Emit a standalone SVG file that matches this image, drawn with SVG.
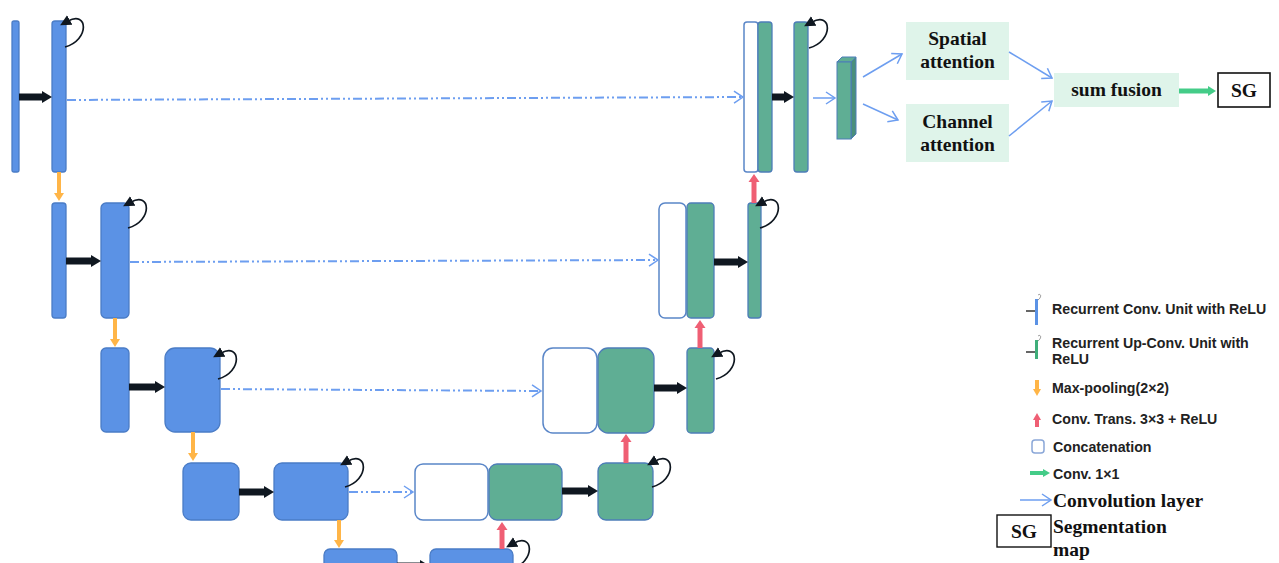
<svg xmlns="http://www.w3.org/2000/svg" width="1279" height="563" viewBox="0 0 1279 563">
  <style>
    .enc { fill: #5b92e5; stroke: #4a7cc6; stroke-width: 1.3; }
    .dec { fill: #5fae94; stroke: #4d7db8; stroke-width: 1.3; }
    .cat { fill: #ffffff; stroke: #5a86c8; stroke-width: 1.5; }
    .att { fill: #dff4ea; }
    .fwd { stroke: #0f1720; stroke-width: 7; fill: none; marker-end: url(#hBlack); }
    .pool { stroke: #ffb547; stroke-width: 4; fill: none; marker-end: url(#hOrange); }
    .up { stroke: #ef5f74; stroke-width: 5; fill: none; marker-end: url(#hRed); }
    .skip { stroke: #6d9ef0; stroke-width: 2; fill: none; stroke-dasharray: 9 3 2 3 2 3; marker-end: url(#hOpen); }
    .conv { stroke: #6d9ef0; stroke-width: 1.5; fill: none; marker-end: url(#hOpen); }
    .loop { stroke: #0f1720; stroke-width: 1.7; fill: none; marker-end: url(#hLoop); }
    .t-serif { font-family: "Liberation Serif", "Times New Roman", serif; font-weight: bold; font-size: 19.5px; fill: #111; }
    .t-leg { font-family: "Liberation Sans", Arial, sans-serif; font-weight: bold; font-size: 14.2px; fill: #222; }
  </style>
  <defs>
    <marker id="hBlack" markerUnits="userSpaceOnUse" markerWidth="11" markerHeight="14" refX="1" refY="7" orient="auto">
      <path d="M0,1 L10,7 L0,13 z" fill="#0f1720"/>
    </marker>
    <marker id="hOrange" markerUnits="userSpaceOnUse" markerWidth="9" markerHeight="12" refX="1" refY="6" orient="auto">
      <path d="M0,1 L8,6 L0,11 z" fill="#ffb547"/>
    </marker>
    <marker id="hRed" markerUnits="userSpaceOnUse" markerWidth="9" markerHeight="13" refX="1" refY="6.5" orient="auto">
      <path d="M0,1 L8,6.5 L0,12 z" fill="#ef5f74"/>
    </marker>
    <marker id="hGreen" markerUnits="userSpaceOnUse" markerWidth="9" markerHeight="12" refX="1" refY="6" orient="auto">
      <path d="M0,1 L8,6 L0,11 z" fill="#44cc88"/>
    </marker>
    <marker id="hOpen" markerUnits="userSpaceOnUse" markerWidth="12" markerHeight="14" refX="10" refY="7" orient="auto">
      <path d="M1,1 L10,7 L1,13" fill="none" stroke="#6d9ef0" stroke-width="1.5"/>
    </marker>
    <marker id="hLoop" markerUnits="userSpaceOnUse" markerWidth="13" markerHeight="13" refX="2" refY="6.5" orient="auto">
      <path d="M0,1 L11,6.5 L0,12 z" fill="#0f1720"/>
    </marker>
  </defs>

  <rect width="1279" height="563" fill="#ffffff"/>

  <!-- encoder path -->
  <g id="enc1a"><rect class="enc" x="12" y="21" width="7" height="151" rx="2"/></g>
  <g id="enc1b"><rect class="enc" x="52" y="21" width="14" height="151" rx="3"/></g>
  <g id="enc2a"><rect class="enc" x="52" y="203" width="14" height="115" rx="3"/></g>
  <g id="enc2b"><rect class="enc" x="101" y="203" width="28" height="115" rx="5"/></g>
  <g id="enc3a"><rect class="enc" x="101" y="348" width="28" height="84" rx="5"/></g>
  <g id="enc3b"><rect class="enc" x="165" y="348" width="55" height="84" rx="10"/></g>
  <g id="enc4a"><rect class="enc" x="183" y="463" width="56" height="57" rx="8"/></g>
  <g id="enc4b"><rect class="enc" x="274" y="463" width="74" height="57" rx="8"/></g>
  <g id="enc5a"><rect class="enc" x="324" y="549" width="73" height="30" rx="6"/></g>
  <g id="enc5b"><rect class="enc" x="430" y="549" width="83" height="30" rx="6"/></g>

  <!-- decoder path -->
  <g id="cat4"><rect class="cat" x="415" y="464" width="73" height="56" rx="8"/></g>
  <g id="dec4a"><rect class="dec" x="489" y="464" width="73" height="56" rx="8"/></g>
  <g id="dec4b"><rect class="dec" x="598" y="463" width="55" height="57" rx="8"/></g>
  <g id="cat3"><rect class="cat" x="543" y="348" width="54" height="85" rx="10"/></g>
  <g id="dec3a"><rect class="dec" x="598" y="348" width="56" height="85" rx="10"/></g>
  <g id="dec3b"><rect class="dec" x="687" y="348" width="27" height="85" rx="4"/></g>
  <g id="cat2"><rect class="cat" x="659" y="203" width="27" height="115" rx="6"/></g>
  <g id="dec2a"><rect class="dec" x="687" y="203" width="27" height="115" rx="4"/></g>
  <g id="dec2b"><rect class="dec" x="748" y="203" width="13" height="115" rx="3"/></g>
  <g id="cat1"><rect class="cat" x="744" y="22" width="14" height="150" rx="3"/></g>
  <g id="dec1a"><rect class="dec" x="758" y="22" width="14" height="150" rx="3"/></g>
  <g id="dec1b"><rect class="dec" x="794" y="22" width="14" height="150" rx="3"/></g>

  <!-- 1x1 feature block drawn as a small prism -->
  <g id="feat">
    <path d="M837,62 L842,57 L856,57 L851,62 z" fill="#5fae94" stroke="#4d7db8" stroke-width="1"/>
    <path d="M851,62 L856,57 L856,134 L851,139 z" fill="#4a8f7b" stroke="#4d7db8" stroke-width="1"/>
    <rect x="837" y="62" width="14" height="77" fill="#5fae94" stroke="#4d7db8" stroke-width="1"/>
  </g>

  <!-- attention and fusion -->
  <g id="spatial">
    <rect class="att" x="906" y="22" width="103" height="58"/>
    <text class="t-serif" x="957.5" y="45" text-anchor="middle">Spatial</text>
    <text class="t-serif" x="957.5" y="68" text-anchor="middle">attention</text>
  </g>
  <g id="channel">
    <rect class="att" x="906" y="104" width="103" height="58"/>
    <text class="t-serif" x="957.5" y="128" text-anchor="middle">Channel</text>
    <text class="t-serif" x="957.5" y="151" text-anchor="middle">attention</text>
  </g>
  <g id="fusion">
    <rect class="att" x="1054" y="73" width="125" height="34"/>
    <text class="t-serif" x="1116.5" y="96" text-anchor="middle">sum fusion</text>
  </g>
  <g id="sg">
    <rect x="1218" y="73" width="52" height="34" fill="#ffffff" stroke="#111" stroke-width="1.6"/>
    <text class="t-serif" x="1244" y="97" text-anchor="middle">SG</text>
  </g>

  <!-- connectors -->
  <g id="connectors">
    <!-- forward convolutions -->
    <line class="fwd" x1="19" y1="97" x2="43" y2="97"/>
    <line class="fwd" x1="66" y1="261" x2="92" y2="261"/>
    <line class="fwd" x1="129" y1="387" x2="156" y2="387"/>
    <line class="fwd" x1="239" y1="492" x2="265" y2="492"/>
    <line class="fwd" x1="397" y1="566" x2="421" y2="566"/>
    <line class="fwd" x1="562" y1="491" x2="589" y2="491"/>
    <line class="fwd" x1="654" y1="388" x2="678" y2="388"/>
    <line class="fwd" x1="714" y1="262" x2="739" y2="262"/>
    <line class="fwd" x1="772" y1="97" x2="785" y2="97"/>

    <!-- max pooling -->
    <line class="pool" x1="59" y1="172" x2="59" y2="194"/>
    <line class="pool" x1="115" y1="318" x2="115" y2="340"/>
    <line class="pool" x1="193" y1="432" x2="193" y2="454"/>
    <line class="pool" x1="339" y1="520" x2="339" y2="541"/>

    <!-- transposed convolutions -->
    <line class="up" x1="502" y1="549" x2="502" y2="529"/>
    <line class="up" x1="626" y1="463" x2="626" y2="441"/>
    <line class="up" x1="700" y1="348" x2="700" y2="327"/>
    <line class="up" x1="754" y1="203" x2="754" y2="181"/>

    <!-- skip connections -->
    <path class="skip" d="M67,100 L743,97"/>
    <path class="skip" d="M130,262 L658,260"/>
    <path class="skip" d="M221,389 L541,391"/>
    <path class="skip" d="M349,492 L413,492"/>

    <!-- recurrent loops -->
    <path class="loop" d="M65,47 C90,40 88,10 68,21"/>
    <path class="loop" d="M128,228 C153,221 151,191 131,202"/>
    <path class="loop" d="M218,379 C243,372 241,342 221,353"/>
    <path class="loop" d="M345,487 C370,480 368,450 348,461"/>
    <path class="loop" d="M511,569 C536,562 534,532 514,543"/>
    <path class="loop" d="M652,487 C677,480 675,450 655,461"/>
    <path class="loop" d="M716,379 C741,372 739,342 719,353"/>
    <path class="loop" d="M760,228 C785,221 783,191 763,202"/>
    <path class="loop" d="M809,48 C834,41 832,11 812,22"/>

    <!-- attention head convolutions -->
    <line class="conv" x1="813" y1="98" x2="835" y2="98"/>
    <line class="conv" x1="863" y1="77" x2="902" y2="54"/>
    <line class="conv" x1="863" y1="104" x2="898" y2="120"/>
    <line class="conv" x1="1009" y1="52" x2="1052" y2="78"/>
    <line class="conv" x1="1009" y1="136" x2="1052" y2="101"/>
    <line x1="1179" y1="91" x2="1209" y2="91" stroke="#44cc88" stroke-width="5" marker-end="url(#hGreen)"/>
  </g>

  <!-- legend -->
  <g id="legend">
    <line x1="1026" y1="311" x2="1035" y2="311" stroke="#333" stroke-width="1.5"/>
    <rect x="1035" y="299" width="3" height="26" fill="#5b92e5"/>
    <path d="M1038,300 C1042,297 1041,293 1038,295" fill="none" stroke="#777" stroke-width="0.8"/>
    <text class="t-leg" x="1052" y="314">Recurrent Conv. Unit with ReLU</text>

    <line x1="1026" y1="352" x2="1035" y2="352" stroke="#333" stroke-width="1.5"/>
    <rect x="1035" y="340" width="3" height="19" fill="#3fae7a"/>
    <path d="M1038,341 C1042,338 1041,334 1038,336" fill="none" stroke="#777" stroke-width="0.8"/>
    <text class="t-leg" x="1052" y="348">Recurrent Up-Conv. Unit with</text>
    <text class="t-leg" x="1052" y="364">ReLU</text>

    <line x1="1037" y1="380" x2="1037" y2="389" stroke="#ffb547" stroke-width="4"/>
    <path d="M1033,389 L1041,389 L1037,396 z" fill="#ffb547"/>
    <text class="t-leg" x="1052" y="393">Max-pooling(2×2)</text>

    <line x1="1037" y1="427" x2="1037" y2="419" stroke="#ef5f74" stroke-width="4"/>
    <path d="M1033,420 L1041,420 L1037,413 z" fill="#ef5f74"/>
    <text class="t-leg" x="1052" y="424">Conv. Trans. 3×3 + ReLU</text>

    <rect x="1032" y="440" width="12" height="13" rx="3" fill="#ffffff" stroke="#8aa7d8" stroke-width="1.5"/>
    <text class="t-leg" x="1053" y="452">Concatenation</text>

    <line x1="1030" y1="473" x2="1043" y2="473" stroke="#44cc88" stroke-width="4"/>
    <path d="M1043,469 L1050,473 L1043,477 z" fill="#44cc88"/>
    <text class="t-leg" x="1053" y="479">Conv. 1×1</text>

    <line class="conv" x1="1020" y1="500" x2="1051" y2="500"/>
    <text class="t-serif" x="1053" y="507">Convolution layer</text>

    <rect x="997" y="515" width="54" height="32" fill="#ffffff" stroke="#111" stroke-width="1.4"/>
    <text class="t-serif" x="1024" y="538" text-anchor="middle" font-size="18">SG</text>
    <text class="t-serif" x="1053" y="533">Segmentation</text>
    <text class="t-serif" x="1053" y="556">map</text>
  </g>
</svg>
